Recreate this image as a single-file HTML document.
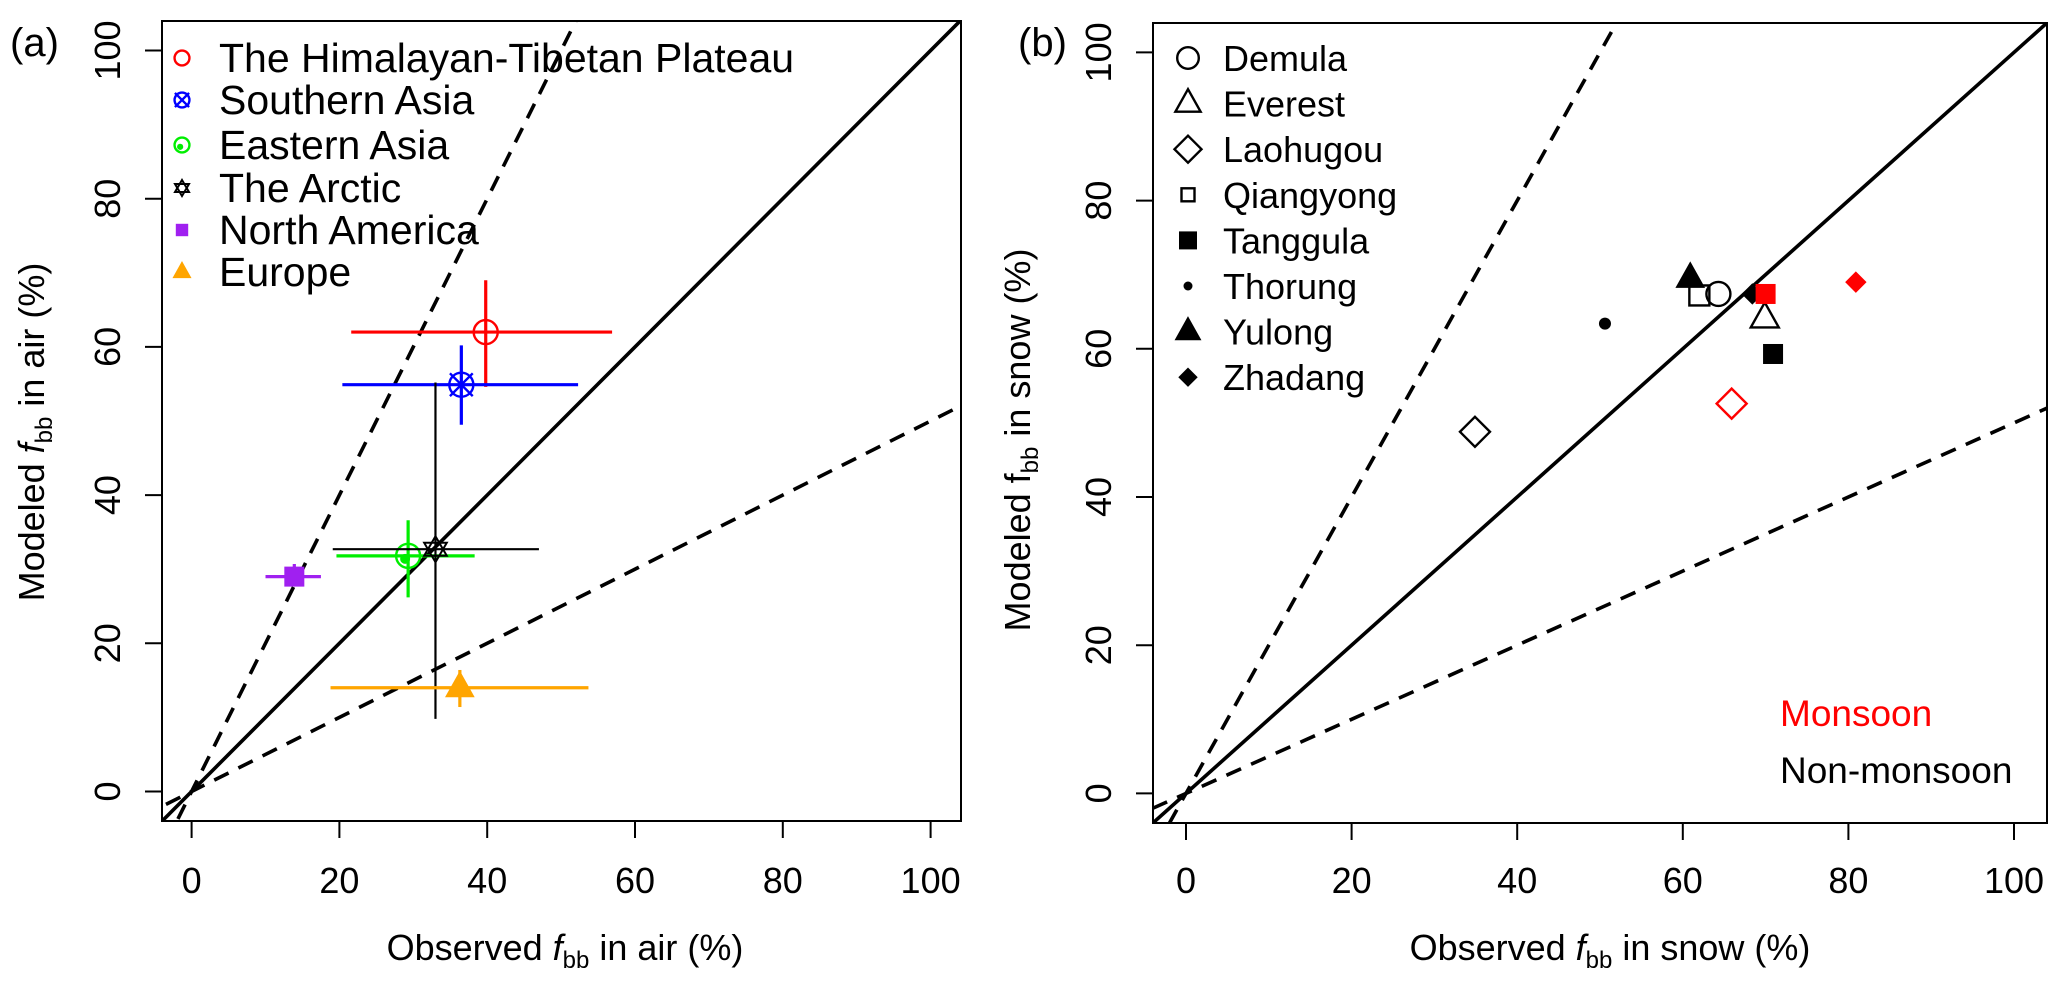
<!DOCTYPE html>
<html><head><meta charset="utf-8"><style>
html,body{margin:0;padding:0;background:#fff;}
svg{display:block;font-family:"Liberation Sans",Arial,sans-serif;}
</style></head><body>
<svg id="chart" width="2067" height="989" viewBox="0 0 2067 989" xmlns="http://www.w3.org/2000/svg">
<defs>
<clipPath id="clipA"><rect x="162" y="21" width="799" height="800"/></clipPath>
<clipPath id="clipB"><rect x="1153" y="23" width="894" height="800"/></clipPath>
</defs>
<g id="panelA"></g>
<g id="panelB"></g>
</svg>
<script>
// ---- Panel (a) data ----
const regionNames = ["The Himalayan-Tibetan Plateau","Southern Asia","Eastern Asia","The Arctic","North America","Europe"];
const regionObsX = [39.8, 36.5, 29.3, 33.0, 13.9, 36.3];
const regionModY = [62.0, 54.9, 31.8, 32.7, 29.0, 14.0];
const regionXLo = [21.6, 20.4, 19.6, 19.1, 10.0, 18.8];
const regionXHi = [56.9, 52.3, 38.3, 47.0, 17.5, 53.7];
const regionYLo = [54.6, 49.5, 26.2, 9.8, 27.7, 11.4];
const regionYHi = [69.0, 60.2, 36.6, 55.2, 30.7, 16.4];
const regionColors = ["#ff0000","#0000ff","#00ee00","#000000","#a020f0","#ffa500"];
const regionPch = ["circle","circlex","circledot","star","square","triangle"];
// ---- Panel (b) data ----
const siteNames = ["Demula","Everest","Laohugou","Qiangyong","Tanggula","Thorung","Yulong","Zhadang"];
const sitePch = ["circle","otriangle","odiamond","osquare","square","dot","triangle","diamond"];
const snowObsX = [64.3, 69.9, 34.9, 62.0, 70.9, 50.6, 60.9, 68.4, 70.0, 65.9, 80.9];
const snowModY = [67.4, 64.1, 48.8, 67.2, 59.3, 63.4, 69.5, 67.4, 67.4, 52.6, 69.0];
const snowSite = [0, 1, 2, 3, 4, 5, 6, 7, 4, 2, 7];
const snowMonsoon = [0, 0, 0, 0, 0, 0, 0, 0, 1, 1, 1];
const tickValues = [0, 20, 40, 60, 80, 100];
const refSlopes = [1, 2, 0.5];

const NS = "http://www.w3.org/2000/svg";
function mk(tag, attrs, parent){const e=document.createElementNS(NS,tag);for(const k in attrs)e.setAttribute(k,attrs[k]);if(parent)parent.appendChild(e);return e;}

const panels = {
  a:{g:document.getElementById('panelA'), x0:191.6, xs:7.39, y0:791.5, ys:7.41, left:162, right:961, top:21, bottom:821, clip:'clipA'},
  b:{g:document.getElementById('panelB'), x0:1186, xs:8.28, y0:793.4, ys:7.41, left:1153, right:2047, top:23, bottom:823, clip:'clipB'}
};
function sx(p,v){return p.x0+v*p.xs;}
function sy(p,v){return p.y0-v*p.ys;}

function marker(parent, type, cx, cy, color, scale){
  const s = scale||1; let e;
  const sw = 2.4;
  if(type==="circle"){ e=mk('circle',{cx,cy,r:12*s,fill:'none',stroke:color,'stroke-width':sw},parent); }
  else if(type==="circlex"){ e=mk('g',{},parent); const r=12*s;
    mk('circle',{cx,cy,r,fill:'none',stroke:color,'stroke-width':sw},e);
    const d=r*0.95; mk('path',{d:`M${cx-d} ${cy-d}L${cx+d} ${cy+d}M${cx-d} ${cy+d}L${cx+d} ${cy-d}`,stroke:color,'stroke-width':sw},e); }
  else if(type==="circledot"){ e=mk('g',{},parent); const r=12*s;
    mk('circle',{cx,cy,r,fill:'none',stroke:color,'stroke-width':sw},e);
    mk('circle',{cx:cx-3*s,cy:cy+3*s,r:5*s,fill:color},e); }
  else if(type==="star"){ e=mk('g',{},parent); const r=13*s;
    mk('path',{d:`M${cx} ${cy-r}L${cx+r*0.87} ${cy+r*0.5}L${cx-r*0.87} ${cy+r*0.5}Z`,fill:'none',stroke:color,'stroke-width':2},e);
    mk('path',{d:`M${cx} ${cy+r}L${cx+r*0.87} ${cy-r*0.5}L${cx-r*0.87} ${cy-r*0.5}Z`,fill:'none',stroke:color,'stroke-width':2},e); }
  else if(type==="square"){ const h=10*s; e=mk('rect',{x:cx-h,y:cy-h,width:2*h,height:2*h,fill:color},parent); }
  else if(type==="osquare"){ const h=10*s; e=mk('rect',{x:cx-h,y:cy-h,width:2*h,height:2*h,fill:'none',stroke:color,'stroke-width':sw},parent); }
  else if(type==="triangle"||type==="otriangle"){ const w=14*s; const f=type==="triangle";
    e=mk('path',{d:`M${cx} ${cy-16*s}L${cx+w} ${cy+9*s}L${cx-w} ${cy+9*s}Z`,fill:f?color:'none',stroke:color,'stroke-width':f?1:sw},parent); }
  else if(type==="diamond"||type==="odiamond"){ const f=type==="diamond"; const r=(f?10:15)*s;
    e=mk('path',{d:`M${cx} ${cy-r}L${cx+r} ${cy}L${cx} ${cy+r}L${cx-r} ${cy}Z`,fill:f?color:'none',stroke:color,'stroke-width':f?1:sw},parent); }
  else if(type==="dot"){ e=mk('circle',{cx,cy,r:6*s,fill:color},parent); }
  return e;
}

function axes(p, key){
  const g=p.g;
  const ax=mk('g',{},g);
  
  
  const frame=mk('rect',{x:p.left,y:p.top,width:p.right-p.left,height:p.bottom-p.top,fill:'none',stroke:'#000','stroke-width':2},ax);
  
  
  tickValues.forEach(v=>{
    const x=sx(p,v);
    mk('line',{x1:x,y1:p.bottom,x2:x,y2:p.bottom+17,stroke:'#000','stroke-width':2},ax);
    const t=mk('text',{x:x,y:893,'font-size':36,'text-anchor':'middle'},ax); t.textContent=v;
    
    
    const y=sy(p,v);
    mk('line',{x1:p.left-17,y1:y,x2:p.left,y2:y,stroke:'#000','stroke-width':2},ax);
    const bx=p.left-42;
    const ty=mk('text',{x:bx,y:y,'font-size':36,'text-anchor':'middle',transform:`rotate(-90 ${bx} ${y})`},ax); ty.textContent=v;
    
    
  });
  const lg=mk('g',{'clip-path':`url(#${p.clip})`},g);
  
  
  refSlopes.forEach((k,i)=>{
    const l=mk('line',{x1:sx(p,-10),y1:sy(p,-10*k),x2:sx(p,120),y2:sy(p,120*k),stroke:'#000','stroke-width':3.6},lg);
    if(i>0) l.setAttribute('stroke-dasharray','16 11');
    
    
  });
}

// ---- Panel A ----
(function(){
  const p=panels.a, g=p.g; axes(p,'a');
  const dg=mk('g',{'clip-path':'url(#clipA)'},g);
  
  
  regionNames.forEach((n,i)=>{
    const c=regionColors[i], cx=sx(p,regionObsX[i]), cy=sy(p,regionModY[i]);
    const w = i===3?2.2:3.2;
    const eg=mk('g',{},dg);
    
    
    mk('line',{x1:sx(p,regionXLo[i]),y1:cy,x2:sx(p,regionXHi[i]),y2:cy,stroke:c,'stroke-width':w},eg);
    mk('line',{x1:cx,y1:sy(p,regionYLo[i]),x2:cx,y2:sy(p,regionYHi[i]),stroke:c,'stroke-width':w},eg);
    marker(eg,regionPch[i],cx,cy,c,1);
  });
  const leg=mk('g',{},g);
  
  
  const rows=[58,100,145,188,230,272];
  regionNames.forEach((n,i)=>{
    const e=mk('g',{},leg);
    
    
    marker(e,regionPch[i],182,rows[i],regionColors[i],0.62);
    const t=mk('text',{x:219,y:rows[i]+14,'font-size':41},e); t.textContent=n;
  });
  const lab=mk('text',{x:10,y:56,'font-size':40},g); lab.textContent='(a)';
  
  
  const xt=mk('text',{x:565,y:960,'font-size':36,'text-anchor':'middle'},g);
  xt.innerHTML='Observed <tspan font-style="italic">f</tspan><tspan font-size="24" baseline-shift="-8">bb</tspan> in air (%)';
  
  
  const yt=mk('text',{x:44,y:432,'font-size':36,'text-anchor':'middle',transform:'rotate(-90 44 432)'},g);
  yt.innerHTML='Modeled <tspan font-style="italic">f</tspan><tspan font-size="24" baseline-shift="-8">bb</tspan> in air (%)';
  
  
})();

// ---- Panel B ----
(function(){
  const p=panels.b, g=p.g; axes(p,'b');
  const dg=mk('g',{'clip-path':'url(#clipB)'},g);
  
  
  snowObsX.forEach((v,i)=>{
    const c=snowMonsoon[i]?'#ff0000':'#000000';
    const m=marker(dg,sitePch[snowSite[i]],sx(p,v),sy(p,snowModY[i]),c,1);
    
    
  });
  const leg=mk('g',{},g);
  
  
  siteNames.forEach((n,i)=>{
    const y=58+i*45.6;
    const e=mk('g',{},leg);
    
    
    marker(e,sitePch[i],1188,y,'#000',sitePch[i]==="osquare"?0.65:(sitePch[i]==="dot"?0.75:0.9));
    const t=mk('text',{x:1223,y:y+13,'font-size':36},e); t.textContent=n;
  });
  const m1=mk('text',{x:1780,y:726,'font-size':37,fill:'#ff0000'},g); m1.textContent='Monsoon';
  
  
  const m2=mk('text',{x:1780,y:783,'font-size':37,fill:'#000'},g); m2.textContent='Non-monsoon';
  
  
  const lab=mk('text',{x:1018,y:56,'font-size':40},g); lab.textContent='(b)';
  
  
  const xt=mk('text',{x:1610,y:960,'font-size':36,'text-anchor':'middle'},g);
  xt.innerHTML='Observed  <tspan font-style="italic">f</tspan><tspan font-size="24" baseline-shift="-8">bb</tspan> in snow (%)';
  
  
  const yt=mk('text',{x:1030,y:440,'font-size':36,'text-anchor':'middle',transform:'rotate(-90 1030 440)'},g);
  yt.innerHTML='Modeled  f<tspan font-size="24" baseline-shift="-8">bb</tspan> in snow (%)';
  
  
})();
</script>
</body></html>
